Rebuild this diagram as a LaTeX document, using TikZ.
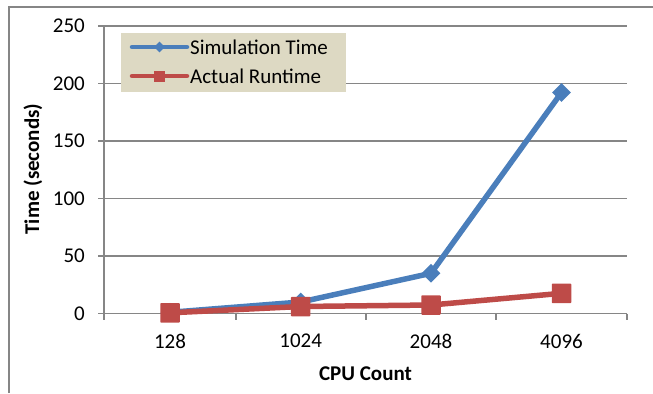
\documentclass[tikz,border=0pt]{standalone}
\usepackage{fontspec}
\setmainfont{Carlito}
\usetikzlibrary{shapes.geometric}
\definecolor{gridgray}{HTML}{868686}
\definecolor{serblue}{HTML}{4A7EBB}
\definecolor{serred}{HTML}{BE4B48}
\definecolor{legbg}{HTML}{DDD9C3}
\tikzset{
  grid line/.style={draw=gridgray, line width=1.6bp},
  axis line/.style={draw=gridgray, line width=1.6bp},
  frame line/.style={draw=gridgray, line width=1.8bp},
  tick label/.style={font=\fontsize{21bp}{25bp}\selectfont, inner sep=0pt},
  axis title/.style={font=\fontsize{21bp}{25bp}\selectfont\bfseries, inner sep=0pt},
  blue series/.style={draw=serblue, line width=5.5bp, line join=round},
  red series/.style={draw=serred, line width=5.5bp, line join=round},
  dmark/.style={diamond, fill=serblue, draw=none, minimum size=19bp, inner sep=0pt},
  smark/.style={rectangle, fill=serred, draw=none, minimum size=19.5bp, inner sep=0pt, rounded corners=0.8bp},
  ldmark/.style={diamond, fill=serblue, draw=none, minimum size=11bp, inner sep=0pt},
  lsmark/.style={rectangle, fill=serred, draw=none, minimum size=11bp, inner sep=0pt},
  legbox/.style={fill=legbg, draw=none},
}
\begin{document}
\begin{tikzpicture}[x=1bp, y=-1bp]
\useasboundingbox (0,0) rectangle (653,393);
% outer frame (partly cut off)
\draw[frame line] (9,393) -- (9,7) -- (653,7);
% gridlines
\foreach \v/\yy in {50/256.0, 100/198.5, 150/141.0, 200/83.5, 250/26.0} {
  \draw[grid line] (98,\yy) -- (627,\yy);
}
% axes
\draw[axis line] (104,26) -- (104,320);
\draw[axis line] (98,313.5) -- (627,313.5);
\foreach \xx in {235.7, 365.7, 496, 626.7} {
  \draw[axis line] (\xx,313.5) -- (\xx,320);
}
% y tick labels
\foreach \v/\yy in {0/313.5, 50/256.0, 100/198.5, 150/141.0, 200/83.5, 250/26.0} {
  \node[tick label, anchor=east] (yl\v) at (85,\yy) {\v};
}
% x tick labels
\node[tick label] (x1) at (170,341) {128};
\node[tick label] (x2) at (300.7,341) {1024};
\node[tick label] (x3) at (431,341) {2048};
\node[tick label] (x4) at (561.5,341) {4096};
% axis titles
\node[axis title] (xt) at (365.5,374) {CPU Count};
\node[axis title, rotate=90] (yt) at (33,169) {Time (seconds)};
% data coordinates
\coordinate (b1) at (170,312.3);
\coordinate (b2) at (300.7,302);
\coordinate (b3) at (431,273.3);
\coordinate (b4) at (561.5,92.5);
\coordinate (r1) at (170,312.8);
\coordinate (r2) at (300.7,306.5);
\coordinate (r3) at (431,305);
\coordinate (r4) at (561.5,293.3);
% blue series
\draw[blue series] (b1) -- (b2) -- (b3) -- (b4);
\foreach \p in {b1,b2,b3,b4} { \node[dmark] (m\p) at (\p) {}; }
% red series
\draw[red series] (r1) -- (r2) -- (r3) -- (r4);
\foreach \p in {r1,r2,r3,r4} { \node[smark] (m\p) at (\p) {}; }
% legend
\path[legbox] (121,33) rectangle (346,92);
\coordinate (lb1) at (132,47);
\coordinate (lb2) at (187,47);
\coordinate (lr1) at (132,76);
\coordinate (lr2) at (187,76);
\draw[blue series, line width=4.5bp, line cap=round] (lb1) -- (lb2);
\node[ldmark] (lbm) at (159.5,47) {};
\draw[red series, line width=4.5bp, line cap=round] (lr1) -- (lr2);
\node[lsmark] (lrm) at (159.5,76) {};
\node[tick label, anchor=west] (lt1) at (190,47) {Simulation Time};
\node[tick label, anchor=west] (lt2) at (190,76) {Actual Runtime};
\end{tikzpicture}
\end{document}
